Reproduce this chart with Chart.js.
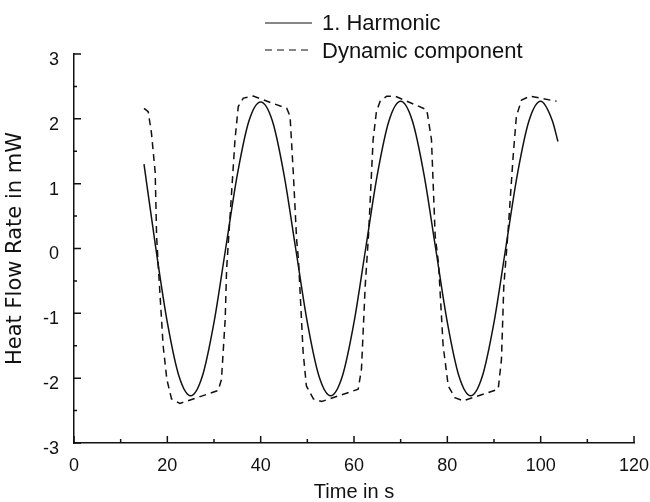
<!DOCTYPE html>
<html>
<head>
<meta charset="utf-8">
<title>Heat Flow Rate</title>
<script src="https://cdn.jsdelivr.net/npm/chart.js@4/dist/chart.umd.min.js"></script>
<style>
    html, body { margin: 0; padding: 0; background: #fff; }
    #wrap { width: 650px; height: 502px; }
</style>
</head>
<body>
<div id="wrap"><canvas id="chart" width="650" height="502"></canvas></div>
<script>
// Series labels
const seriesNames = ['1. Harmonic', 'Dynamic component'];

// 1. Harmonic (solid line), time in s / heat flow rate in mW
const harmonicTime = [15, 17.5, 20, 22.5, 25, 27.5, 30, 32.5, 35, 37.5, 40, 42.5, 45, 47.5, 50, 52.5, 55, 57.5,
    60, 62.5, 65, 67.5, 70, 72.5, 75, 77.5, 80, 82.5, 85, 87.5, 90, 92.5, 95, 97.5, 100, 102.5, 103.7];
const harmonicValue = [1.30, 0.02, -1.14, -1.97, -2.27, -1.97, -1.14, 0.0, 1.14, 1.97, 2.26, 1.97, 1.14, 0.0, -1.14, -1.97, -2.27, -1.97,
    -1.14, 0.0, 1.14, 1.97, 2.27, 1.97, 1.14, 0.0, -1.14, -1.97, -2.27, -1.97, -1.14, 0.0, 1.14, 1.97, 2.27, 1.97, 1.65];

// Dynamic component (dashed line)
const dynamicTime = [15.0, 15.9, 16.6, 17.4, 17.7, 18.1, 19.1, 19.9, 20.9, 22.7, 30.9, 31.6, 32.4, 32.7, 33.4, 34.5, 35.2, 36.3, 38.4,
    45.6, 46.3, 47.0, 47.7, 48.1, 49.1, 49.8, 51.3, 53.1, 60.9, 61.6, 62.4, 63.1, 64.1, 64.8, 65.6, 67.0, 68.8,
    75.6, 76.6, 77.4, 78.1, 79.1, 80.2, 81.6, 83.4, 90.9, 91.6, 92.1, 93.0, 94.1, 94.8, 95.9, 97.7, 103.4];
const dynamicValue = [2.16, 2.11, 1.78, 1.17, 0.19, -0.32, -1.50, -2.02, -2.32, -2.39, -2.19, -2.02, -1.09, -0.32, 0.45, 1.68, 2.19, 2.32, 2.35,
    2.16, 2.04, 1.16, 0.14, -0.17, -1.60, -2.12, -2.32, -2.36, -2.17, -1.86, -0.58, 0.19, 1.68, 2.11, 2.27, 2.35, 2.35,
    2.14, 1.68, 0.19, -0.22, -1.50, -2.12, -2.30, -2.35, -2.17, -1.71, -0.58, 0.25, 1.42, 2.04, 2.29, 2.35, 2.27];

// Axis ranges
const xMin = 0, xMax = 120, xStep = 10;
const yMin = -3, yMax = 3, yStep = 0.5;

const fontFamily = '"Liberation Sans", Arial, Helvetica, sans-serif';

// Pair up times and values into points
function toPoints(times, values) {
    return times.map((t, i) => ({ x: t, y: values[i] }));
}

// Plugin: ticks pointing into the plot area
const inwardTicks = {
    id: 'inwardTicks',
    afterDraw(chart) {
        const ctx = chart.ctx;
        const xs = chart.scales.x, ys = chart.scales.y;
        ctx.save();
        ctx.strokeStyle = '#111';
        ctx.lineWidth = 1.5;
        ctx.beginPath();
        xs.ticks.forEach(t => {
            const px = xs.getPixelForValue(t.value);
            const len = t.value % 20 === 0 ? 7 : 4;
            ctx.moveTo(px, ys.bottom);
            ctx.lineTo(px, ys.bottom - len);
        });
        ys.ticks.forEach(t => {
            const py = ys.getPixelForValue(t.value);
            const len = Number.isInteger(t.value) ? 7 : 3;
            ctx.moveTo(xs.left, py);
            ctx.lineTo(xs.left + len, py);
        });
        ctx.stroke();
        ctx.restore();
    }
};

// Plugin: legend stacked in two rows above the plot
const stackedLegend = {
    id: 'stackedLegend',
    afterDraw(chart) {
        const ctx = chart.ctx;
        const rows = [{ y: 23, base: 30 }, { y: 50, base: 58 }];
        ctx.save();
        chart.data.datasets.forEach((ds, i) => {
            ctx.strokeStyle = ds.borderColor;
            ctx.lineWidth = 1.2;
            ctx.setLineDash(ds.borderDash || []);
            ctx.beginPath();
            ctx.moveTo(265, rows[i].y);
            ctx.lineTo(312, rows[i].y);
            ctx.stroke();
            ctx.setLineDash([]);
            ctx.fillStyle = '#111';
            ctx.font = '22px ' + fontFamily;
            ctx.textBaseline = 'alphabetic';
            ctx.fillText(ds.label, 322, rows[i].base);
        });
        ctx.restore();
    }
};

// Build the chart
function drawChart() {
    const ctx = document.getElementById('chart').getContext('2d');
    new Chart(ctx, {
        type: 'line',
        data: {
            datasets: [{
                label: seriesNames[0],
                data: toPoints(harmonicTime, harmonicValue),
                borderColor: '#111',
                borderWidth: 1.5,
                pointRadius: 0,
                cubicInterpolationMode: 'monotone',
                fill: false
            }, {
                label: seriesNames[1],
                data: toPoints(dynamicTime, dynamicValue),
                borderColor: '#111',
                borderWidth: 1.5,
                borderDash: [7, 5],
                pointRadius: 0,
                tension: 0,
                fill: false
            }]
        },
        options: {
            responsive: false,
            animation: false,
            devicePixelRatio: 1,
            layout: { padding: { top: 54, right: 16, left: 0, bottom: 0 } },
            plugins: {
                legend: { display: false },
                tooltip: { enabled: false }
            },
            scales: {
                x: {
                    type: 'linear',
                    min: xMin,
                    max: xMax,
                    grid: { display: false },
                    border: { display: true, color: '#111', width: 1.5 },
                    ticks: {
                        stepSize: xStep,
                        padding: 4,
                        color: '#111',
                        font: { family: fontFamily, size: 18 },
                        maxRotation: 0,
                        autoSkip: false,
                        callback: v => (v % 20 === 0 ? v : '')
                    },
                    title: {
                        display: true,
                        text: 'Time in s',
                        color: '#111',
                        font: { family: fontFamily, size: 20, lineHeight: 1 },
                        padding: { top: 0, bottom: 0 }
                    },
                    afterFit: s => {
                        s.height = 59;
                        s.paddingLeft = 0;
                        s.paddingRight = 0;
                    }
                },
                y: {
                    type: 'linear',
                    min: yMin,
                    max: yMax,
                    grid: { display: false },
                    border: { display: true, color: '#111', width: 1.5 },
                    ticks: {
                        stepSize: yStep,
                        padding: 7,
                        labelOffset: 6,
                        color: '#111',
                        font: { family: fontFamily, size: 18 },
                        autoSkip: false,
                        callback: v => (Number.isInteger(v) ? v : '')
                    },
                    title: {
                        display: true,
                        text: 'Heat Flow Rate in mW',
                        color: '#111',
                        font: { family: '"DejaVu Sans", sans-serif', size: 21 },
                        padding: { top: 3, bottom: 4 }
                    },
                    afterFit: s => { s.width = 74; }
                }
            }
        },
        plugins: [inwardTicks, stackedLegend]
    });
}

document.addEventListener('DOMContentLoaded', drawChart);
</script>
</body>
</html>
